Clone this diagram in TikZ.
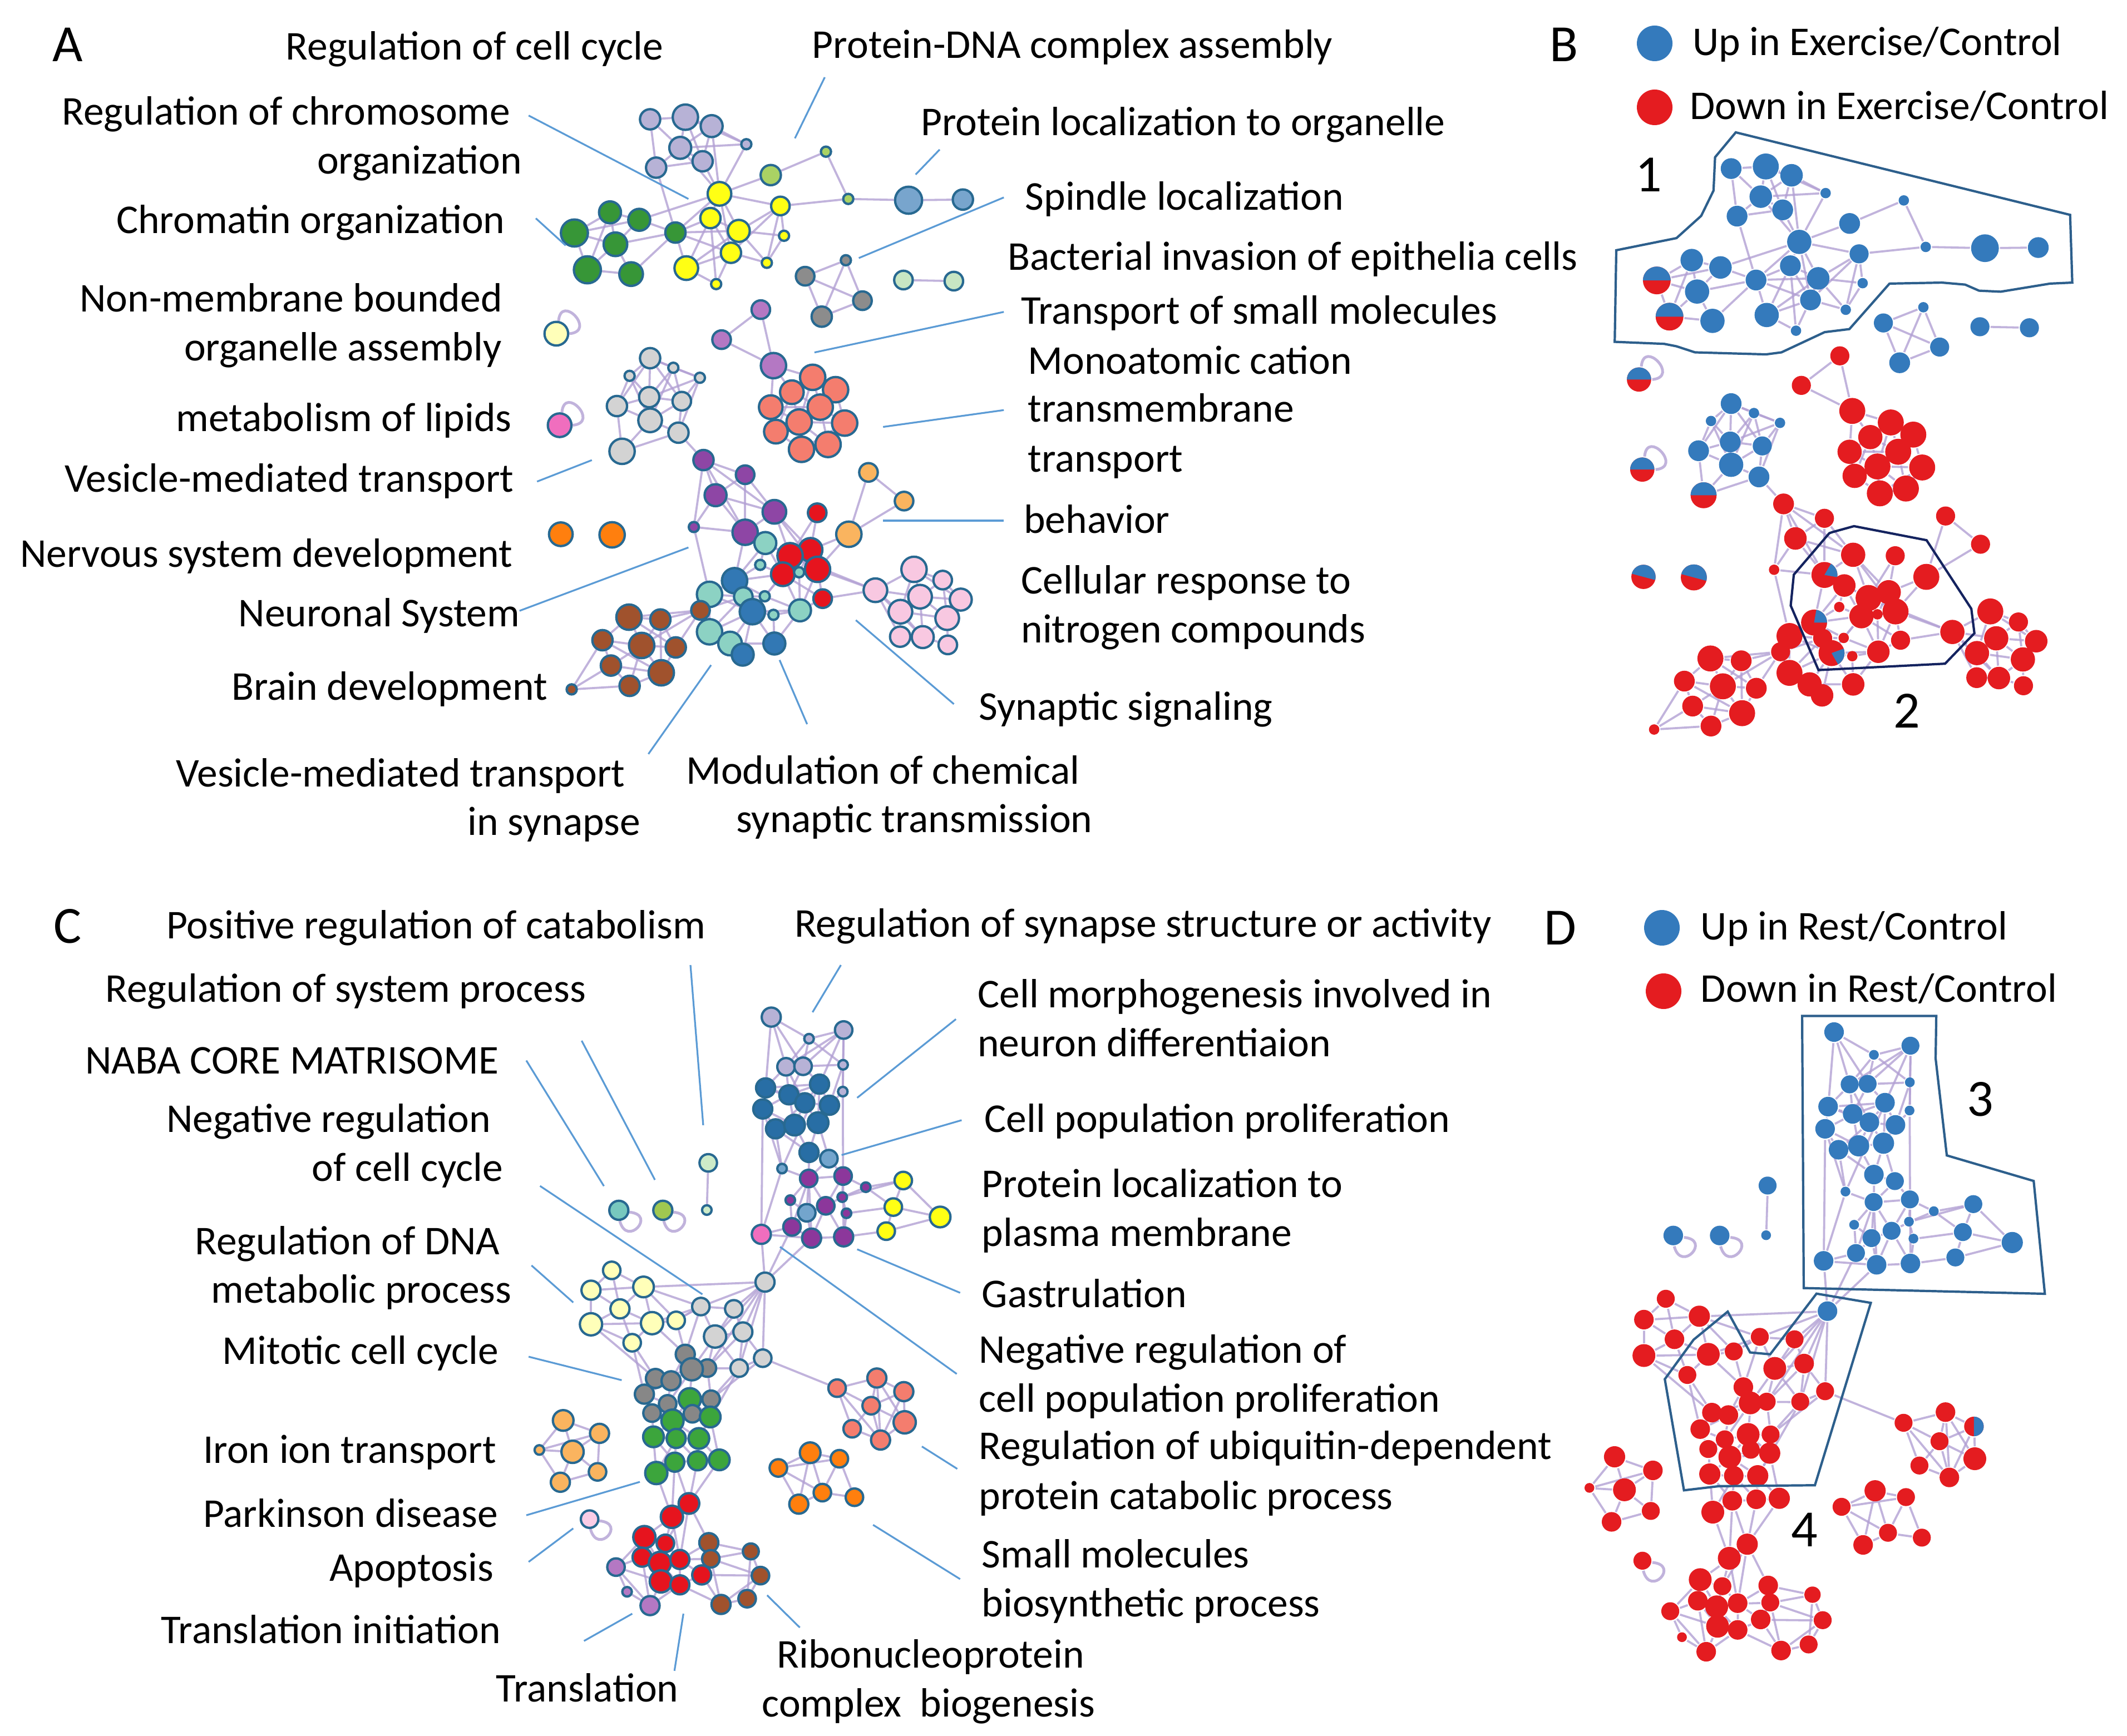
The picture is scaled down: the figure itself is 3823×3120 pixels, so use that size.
\documentclass[tikz,border=0pt]{standalone}
\usepackage{fontspec}
\setmainfont{Carlito}
\pgfdeclarelayer{bgzero}
\pgfdeclarelayer{background}
\pgfsetlayers{bgzero,background,main}
\definecolor{ndout}{RGB}{40,105,145}
\definecolor{lnkc}{RGB}{178,160,212}
\definecolor{ldrc}{RGB}{91,155,213}
\definecolor{upc}{RGB}{52,122,188}
\definecolor{downc}{RGB}{228,28,32}
\definecolor{lav}{RGB}{183,178,214}
\definecolor{yel}{RGB}{255,255,20}
\definecolor{ygr}{RGB}{170,210,100}
\definecolor{pblu}{RGB}{120,165,205}
\definecolor{grn}{RGB}{55,150,55}
\definecolor{gry}{RGB}{140,140,140}
\definecolor{lgrn}{RGB}{200,230,195}
\definecolor{pyel}{RGB}{255,255,185}
\definecolor{orch}{RGB}{180,120,195}
\definecolor{pur}{RGB}{142,70,165}
\definecolor{lgry}{RGB}{211,211,211}
\definecolor{hpink}{RGB}{240,110,190}
\definecolor{salm}{RGB}{244,125,110}
\definecolor{rred}{RGB}{230,20,30}
\definecolor{tealn}{RGB}{140,210,195}
\definecolor{dblu}{RGB}{50,120,180}
\definecolor{lora}{RGB}{250,180,95}
\definecolor{ora}{RGB}{255,127,14}
\definecolor{ppink}{RGB}{248,200,225}
\definecolor{brn}{RGB}{160,82,45}
\definecolor{cdblu}{RGB}{40,110,165}
\definecolor{mblu}{RGB}{115,165,205}
\definecolor{cpur}{RGB}{140,55,155}
\definecolor{tealc}{RGB}{120,200,190}
\definecolor{ygc}{RGB}{160,200,80}
\definecolor{lgc}{RGB}{205,235,200}
\definecolor{dgry}{RGB}{135,135,135}
\definecolor{cgrn}{RGB}{60,165,60}
\definecolor{lpink}{RGB}{250,205,230}
\definecolor{regone}{RGB}{45,95,140}
\definecolor{regtwo}{RGB}{20,35,95}
\newcommand\lblfont{\fontsize{7.35}{9}\selectfont}
\newcommand\bigfont{\fontsize{9.4}{11}\selectfont}
\tikzset{
  nA/.style={circle,draw=ndout,line width=0.42pt,inner sep=0pt},
  nB/.style={circle,draw=none,inner sep=0pt},
  U/.style={fill=upc},
  D/.style={fill=downc},
  pie/.style 2 args={fill=downc,path picture={\fill[upc] (path picture bounding box.center) -- +(#1:20pt) -- +({(#1+#2)/2}:20pt) -- +(#2:20pt) -- cycle;}},
  lnk/.style={draw=lnkc,line width=0.38pt,opacity=0.8},
  ldr/.style={draw=ldrc,line width=0.32pt},
  lab/.style={font=\lblfont,inner sep=0pt,anchor=base west},
  bigl/.style={font=\bigfont,inner sep=0pt},
  regA/.style={draw=regone,line width=0.42pt},
  regB/.style={draw=regtwo,line width=0.42pt},
  legdot/.style={circle,inner sep=0pt,minimum size=6.4pt}
}
\newif\ifcolmode
\newcommand\nd[6]{%
  \ifcolmode
    \node[nA,minimum size={#4*\zs*0.112pt},fill=#5] (\pf#1) at (#2,#3) {};%
  \else
    \node[nB,minimum size={#4*\zs*0.115pt},#6] (\pf#1) at (#2,#3) {};%
  \fi}
\newcommand\lk[1]{\foreach \ea/\eb in {#1}{\draw[lnk] (\pf\ea) -- (\pf\eb);}}
\newcommand\loopup[1]{\draw[lnk,line width=0.5pt] (#1.80) .. controls +(85:5pt) and +(5:5pt) .. (#1.0);}
\newcommand\loopdn[1]{\draw[lnk,line width=0.5pt] (#1.-10) .. controls +(-5:5pt) and +(-75:5pt) .. (#1.-85);}
\newcommand\ldr[3]{\coordinate (#1a) at (#2); \coordinate (#1b) at (#3); \draw[ldr] (#1a) -- (#1b);}
% ---------------- network of panels A / B ----------------
\newcommand\netA{%
\begin{scope}[shift={(950,200)},xscale=0.5421,yscale=0.3827]\def\zs{0.5421}
\nd{L1}{403}{38}{60}{lav}{U}
\nd{L2}{520}{28}{75}{lav}{U}
\nd{L3}{607}{70}{65}{lav}{U}
\nd{L4}{503}{172}{65}{lav}{U}
\nd{L5}{722}{155}{30}{lav}{U}
\nd{L6}{577}{235}{60}{lav}{U}
\nd{L7}{423}{265}{60}{lav}{U}
\nd{Y1}{633}{388}{70}{yel}{U}
\nd{Y2}{835}{445}{55}{yel}{U}
\nd{Y3}{603}{502}{60}{yel}{U}
\nd{Y4}{697}{562}{65}{yel}{U}
\nd{Y5}{847}{585}{30}{yel}{U}
\nd{Y6}{671}{665}{60}{yel}{U}
\nd{Y7}{523}{737}{70}{yel}{U}
\nd{Y8}{790}{712}{30}{yel}{U}
\nd{Y9}{622}{812}{30}{yel}{U}
\nd{G1}{803}{300}{60}{ygr}{U}
\nd{G2}{986}{190}{30}{ygr}{U}
\nd{G3}{1060}{412}{30}{ygr}{U}
\nd{P1}{1260}{418}{80}{pblu}{U}
\nd{P2}{1440}{415}{60}{pblu}{U}
\nd{Gr1}{270}{475}{65}{grn}{U}
\nd{Gr2}{367}{510}{65}{grn}{U}
\nd{Gr3}{152}{572}{80}{grn}{pie={0}{180}}
\nd{Gr4}{487}{570}{60}{grn}{U}
\nd{Gr5}{288}{625}{70}{grn}{U}
\nd{Gr6}{195}{745}{80}{grn}{pie={0}{180}}
\nd{Gr7}{340}{765}{70}{grn}{U}
\nd{Dg1}{1052}{700}{30}{gry}{U}
\nd{Dg2}{917}{775}{55}{gry}{U}
\nd{Dg3}{1107}{890}{55}{gry}{U}
\nd{Dg4}{972}{965}{60}{gry}{U}
\nd{E1}{1243}{793}{55}{lgrn}{U}
\nd{E2}{1410}{798}{55}{lgrn}{U}
\nd{Yl}{92}{1045}{70}{pyel}{pie={0}{180}}
\nd{Oc1}{770}{932}{55}{orch}{D}
\nd{Oc2}{640}{1073}{55}{orch}{D}
\nd{Oc3}{812}{1195}{75}{orch}{D}
\nd{Q1}{403}{1160}{60}{lgry}{U}
\nd{Q2}{480}{1205}{30}{lgry}{U}
\nd{Q3}{335}{1243}{30}{lgry}{U}
\nd{Q4}{568}{1252}{30}{lgry}{U}
\nd{Q5}{400}{1343}{60}{lgry}{U}
\nd{Q6}{293}{1385}{60}{lgry}{U}
\nd{Q7}{508}{1362}{55}{lgry}{U}
\nd{Q8}{403}{1452}{70}{lgry}{U}
\nd{Q9}{497}{1510}{60}{lgry}{U}
\nd{Pl}{103}{1475}{70}{hpink}{pie={0}{180}}
\nd{S1}{942}{1250}{75}{salm}{D}
\nd{S2}{1018}{1308}{75}{salm}{D}
\nd{S3}{873}{1320}{70}{salm}{D}
\nd{S4}{803}{1390}{70}{salm}{D}
\nd{S5}{967}{1390}{75}{salm}{D}
\nd{S6}{897}{1460}{75}{salm}{D}
\nd{S7}{1048}{1465}{75}{salm}{D}
\nd{S8}{820}{1505}{70}{salm}{D}
\end{scope}
\begin{scope}[shift={(950,750)},xscale=0.5421,yscale=0.3508]\def\zs{0.5421}
\nd{Q10}{310}{175}{75}{lgry}{pie={0}{180}}
\nd{S9}{905}{165}{75}{salm}{D}
\nd{S10}{993}{140}{75}{salm}{D}
\nd{Pu1}{580}{220}{60}{pur}{D}
\nd{Pu2}{718}{295}{55}{pur}{D}
\nd{Pu3}{620}{400}{65}{pur}{D}
\nd{Pu4}{815}{485}{70}{pur}{D}
\nd{Pu5}{548}{563}{30}{pur}{D}
\nd{Pu6}{718}{590}{75}{pur}{pie={-10}{60}}
\nd{R1}{957}{490}{55}{rred}{D}
\nd{T1}{785}{645}{65}{tealn}{D}
\nd{R2}{935}{680}{70}{rred}{D}
\nd{R3}{867}{710}{75}{rred}{D}
\nd{T2}{768}{757}{30}{tealn}{D}
\nd{R4}{958}{780}{75}{rred}{D}
\nd{R5}{843}{805}{70}{rred}{D}
\nd{T3}{897}{795}{30}{tealn}{D}
\nd{R6}{975}{930}{55}{rred}{D}
\nd{Db1}{683}{838}{75}{dblu}{pie={0}{80}}
\nd{T4}{600}{908}{75}{tealn}{D}
\nd{T5}{712}{920}{55}{tealn}{D}
\nd{T6}{783}{918}{30}{tealn}{D}
\nd{Db2}{742}{997}{75}{dblu}{pie={-60}{20}}
\nd{T7}{812}{1013}{30}{tealn}{D}
\nd{T8}{900}{990}{65}{tealn}{D}
\nd{T9}{600}{1100}{75}{tealn}{D}
\nd{T10}{668}{1160}{70}{tealn}{D}
\nd{Db3}{815}{1160}{65}{dblu}{D}
\nd{Db4}{710}{1217}{65}{dblu}{D}
\nd{Lo1}{1127}{283}{55}{lora}{D}
\nd{Lo2}{1245}{430}{55}{lora}{D}
\nd{Lo3}{1062}{600}{75}{lora}{D}
\nd{O1}{107}{600}{70}{ora}{pie={-15}{165}}
\nd{O2}{277}{603}{75}{ora}{pie={-15}{165}}
\nd{Pk1}{1278}{780}{75}{ppink}{D}
\nd{Pk2}{1373}{835}{55}{ppink}{D}
\nd{Pk3}{1150}{887}{70}{ppink}{D}
\nd{Pk4}{1298}{920}{70}{ppink}{D}
\nd{Pk5}{1433}{935}{65}{ppink}{D}
\nd{Pk6}{1233}{997}{70}{ppink}{D}
\nd{Pk7}{1388}{1030}{70}{ppink}{D}
\nd{Pk8}{1232}{1125}{60}{ppink}{D}
\nd{Pk9}{1307}{1127}{65}{ppink}{D}
\nd{Pk10}{1390}{1167}{55}{ppink}{D}
\nd{Br1}{570}{990}{55}{brn}{D}
\nd{Br2}{333}{1025}{75}{brn}{D}
\nd{Br3}{437}{1037}{60}{brn}{D}
\nd{Br4}{245}{1143}{60}{brn}{D}
\nd{Br5}{375}{1170}{75}{brn}{D}
\nd{Br6}{488}{1180}{60}{brn}{D}
\nd{Br7}{273}{1273}{60}{brn}{D}
\nd{Br8}{440}{1310}{75}{brn}{D}
\nd{Br9}{335}{1377}{60}{brn}{D}
\nd{Br10}{143}{1395}{30}{brn}{D}
\end{scope}
\begin{pgfonlayer}{background}
\lk{L1/L2,L1/L4,L1/L7,L2/L3,L2/L4,L2/L6,L3/L4,L3/L6,L3/L5,L4/L5,L4/L6,L4/L7,L6/L7,L2/L5,L3/Y1,L6/Y1,L5/Y1,L4/Y1,L7/Gr4}
\lk{Y1/Y2,Y1/Y3,Y1/Y4,Y1/G1,Y1/Gr2,Y1/Gr4,Y1/Y6,Y3/Y4,Y3/Y6,Y3/Y7,Y3/Gr4,Y4/Y6,Y4/Y2,Y4/Y5,Y4/Y8,Y4/Gr4,Y6/Y7,Y6/Y9,Y6/Y2,Y7/Y9,Y7/Gr4,Y7/Y4,Y2/Y5,Y2/Y8,Y5/Y8,Y2/G3,Y6/Y8,Y9/Y3,Gr4/Y6}
\lk{G1/G2,G2/G3,G3/P1,P1/P2,E1/E2}
\lk{Gr1/Gr2,Gr1/Gr3,Gr1/Gr5,Gr2/Gr4,Gr2/Gr5,Gr3/Gr5,Gr3/Gr6,Gr5/Gr6,Gr5/Gr7,Gr6/Gr7,Gr7/Gr4,Gr2/Gr3,Gr4/Gr5,Gr6/Gr1}
\lk{Dg1/Dg2,Dg1/Dg3,Dg1/Dg4,Dg2/Dg3,Dg2/Dg4,Dg3/Dg4}
\lk{Oc1/Oc2,Oc2/Oc3,Oc1/Oc3,Oc3/S1,Oc3/S3,Oc3/S4}
\lk{S1/S2,S1/S3,S1/S5,S2/S5,S2/S7,S3/S4,S3/S5,S3/S6,S4/S6,S4/S8,S5/S6,S5/S7,S6/S7,S6/S8,S6/S9,S7/S10,S5/S10,S8/S9,S9/S10,S6/S10,S1/S6,S3/S8,S2/S6,S4/S5,S7/S9}
\lk{Q1/Q2,Q1/Q3,Q1/Q4,Q1/Q5,Q1/Q6,Q1/Q7,Q2/Q4,Q2/Q5,Q2/Q7,Q3/Q5,Q3/Q6,Q4/Q7,Q4/Q5,Q5/Q6,Q5/Q7,Q5/Q8,Q6/Q8,Q7/Q8,Q7/Q9,Q8/Q9,Q8/Q10,Q6/Q10,Q9/Q10,Q3/Q8,Q2/Q8,Q4/Q9,Q9/Pu1}
\lk{Pu1/Pu2,Pu1/Pu3,Pu1/Pu4,Pu1/Pu5,Pu1/Pu6,Pu2/Pu3,Pu2/Pu4,Pu2/Pu6,Pu3/Pu4,Pu3/Pu5,Pu3/Pu6,Pu5/Pu6,Pu4/Pu6,Pu4/R3,Pu4/R2,Pu4/R4,Pu6/T1,Pu6/Db1,Pu5/T4,Pu6/R3}
\lk{R1/R2,R1/R3,R2/R3,R2/R4,R3/R4,R3/R5,R4/R5,R2/T3,R5/T3,R4/T3,R4/R6,R5/R6,R2/Lo3,R4/Lo3,R4/Pk3,R3/Pk3,R6/Pk3,Lo3/Lo2,Lo2/Lo1,Lo1/Lo3,R3/T1,R5/T1,T1/T2,R5/T2}
\lk{T1/Db1,T2/Db1,Db1/T4,Db1/T5,Db1/T6,Db1/Db2,T4/T5,T4/T9,T4/Db2,T5/Db2,T5/T6,T6/Db2,T6/R5,T6/T8,Db2/T7,Db2/T8,Db2/T9,Db2/T10,Db2/Db3,Db2/Db4,T7/T8,T7/Db3,T8/R5,T8/R6,T8/R4,T9/T10,T9/Db4,T10/Db4,T10/Db3,T9/T5,R5/Db2,R5/Db1,T3/T8,Db3/T8,T4/Br1,T9/Br1,Br1/T5}
\lk{Br1/Br2,Br1/Br3,Br1/Br5,Br1/Br6,Br2/Br3,Br2/Br4,Br2/Br5,Br3/Br5,Br3/Br6,Br4/Br5,Br4/Br7,Br5/Br6,Br5/Br7,Br5/Br8,Br5/Br9,Br6/Br8,Br7/Br9,Br8/Br9,Br7/Br8,Br4/Br8,Br2/Br6,Br10/Br4,Br10/Br9,Br10/Br7,Br3/Br8}
\lk{Pk1/Pk2,Pk1/Pk3,Pk1/Pk4,Pk1/Pk5,Pk2/Pk4,Pk2/Pk5,Pk3/Pk4,Pk3/Pk6,Pk3/Pk8,Pk4/Pk5,Pk4/Pk6,Pk4/Pk7,Pk4/Pk9,Pk5/Pk7,Pk6/Pk7,Pk6/Pk8,Pk6/Pk9,Pk7/Pk9,Pk7/Pk10,Pk8/Pk9,Pk9/Pk10,Pk3/Pk9,Pk1/Pk6,Pk2/Pk7}
\end{pgfonlayer}
}
% ---------------- network of panels C / D ----------------
\newcommand\netC{%
\begin{scope}[shift={(950,1650)},xscale=0.5102,yscale=0.4464]\def\zs{0.5102}
\nd{La1}{855}{400}{60}{lav}{U}
\nd{La2}{988}{487}{30}{lav}{U}
\nd{La3}{1110}{452}{55}{lav}{U}
\nd{La4}{907}{600}{55}{lav}{U}
\nd{La5}{967}{598}{55}{lav}{U}
\nd{La6}{1108}{592}{30}{lav}{U}
\nd{La7}{1107}{700}{30}{lav}{U}
\nd{B1}{835}{685}{60}{cdblu}{U}
\nd{B2}{917}{713}{60}{cdblu}{U}
\nd{B3}{1025}{670}{60}{cdblu}{U}
\nd{B4}{973}{745}{60}{cdblu}{U}
\nd{B5}{825}{770}{60}{cdblu}{U}
\nd{B6}{1060}{755}{60}{cdblu}{U}
\nd{B7}{870}{850}{60}{cdblu}{U}
\nd{B8}{937}{835}{65}{cdblu}{U}
\nd{B9}{1020}{825}{65}{cdblu}{U}
\nd{B10}{988}{945}{60}{cdblu}{U}
\nd{Mb1}{1058}{970}{55}{mblu}{U}
\nd{Mb2}{893}{1010}{30}{mblu}{U}
\nd{Pp1}{987}{1050}{55}{cpur}{U}
\nd{Pp2}{1108}{1040}{55}{cpur}{U}
\nd{Pp3}{1188}{1085}{30}{cpur}{U}
\nd{Pp4}{922}{1137}{30}{cpur}{U}
\nd{Pp5}{1105}{1125}{30}{cpur}{U}
\nd{Pp6}{1047}{1160}{55}{cpur}{U}
\nd{Pp7}{1120}{1190}{30}{cpur}{U}
\nd{Mb3}{980}{1188}{55}{mblu}{U}
\nd{Pp8}{928}{1245}{55}{cpur}{U}
\nd{Pp9}{997}{1290}{60}{cpur}{U}
\nd{Pp10}{1110}{1285}{60}{cpur}{U}
\nd{Pi}{820}{1275}{60}{hpink}{U}
\nd{Ye1}{1320}{1058}{55}{yel}{U}
\nd{Ye2}{1285}{1165}{55}{yel}{U}
\nd{Ye3}{1450}{1205}{65}{yel}{U}
\nd{Ye4}{1260}{1262}{55}{yel}{U}
\nd{Tl}{318}{1178}{60}{tealc}{U}
\nd{Yg}{473}{1178}{60}{ygc}{U}
\nd{Lp1}{633}{987}{55}{lgc}{U}
\nd{Lp2}{628}{1177}{30}{lgc}{U}
\nd{Py1}{293}{1420}{55}{pyel}{D}
\end{scope}
\begin{scope}[shift={(950,2300)},xscale=0.5102,yscale=0.4145]\def\zs{0.5102}
\nd{Py2}{220}{47}{60}{pyel}{D}
\nd{Py3}{405}{33}{65}{pyel}{D}
\nd{Py4}{322}{128}{60}{pyel}{D}
\nd{Py5}{220}{195}{70}{pyel}{D}
\nd{Py6}{435}{190}{70}{pyel}{D}
\nd{Py7}{520}{178}{55}{pyel}{D}
\nd{Py8}{365}{275}{55}{pyel}{D}
\nd{Lg1}{833}{12}{60}{lgry}{U}
\nd{Lg2}{607}{118}{55}{lgry}{D}
\nd{Lg3}{723}{128}{55}{lgry}{D}
\nd{Lg4}{657}{248}{70}{lgry}{D}
\nd{Lg5}{755}{228}{60}{lgry}{D}
\nd{Lg6}{825}{342}{55}{lgry}{D}
\nd{Lg7}{742}{385}{55}{lgry}{D}
\nd{Dg1}{552}{325}{60}{dgry}{D}
\nd{Dg3}{630}{385}{55}{dgry}{D}
\nd{Dg2}{575}{390}{70}{dgry}{D}
\nd{Dg4}{447}{430}{60}{dgry}{D}
\nd{Dg5}{502}{440}{60}{dgry}{D}
\nd{Dg6}{408}{498}{60}{dgry}{D}
\nd{Dg8}{643}{520}{55}{dgry}{D}
\nd{Dg7}{490}{540}{55}{dgry}{D}
\nd{Gn1}{568}{520}{70}{cgrn}{D}
\nd{Dg9}{435}{580}{55}{dgry}{D}
\nd{Dg10}{577}{583}{55}{dgry}{D}
\nd{Gn2}{507}{613}{70}{cgrn}{D}
\nd{Gn3}{640}{597}{65}{cgrn}{D}
\nd{Gn4}{440}{683}{65}{cgrn}{D}
\nd{Gn5}{520}{690}{60}{cgrn}{D}
\nd{Gn6}{600}{690}{65}{cgrn}{D}
\nd{Gn7}{515}{793}{60}{cgrn}{D}
\nd{Gn8}{595}{787}{60}{cgrn}{D}
\nd{Gn9}{672}{783}{65}{cgrn}{D}
\nd{Gn10}{450}{840}{70}{cgrn}{D}
\nd{Lo1}{122}{612}{65}{lora}{D}
\nd{Lo2}{250}{668}{60}{lora}{D}
\nd{Lo3}{155}{748}{70}{lora}{D}
\nd{Lo4}{38}{740}{30}{lora}{D}
\nd{Lo5}{243}{835}{55}{lora}{D}
\nd{Lo6}{112}{880}{60}{lora}{D}
\nd{Sa1}{1227}{428}{60}{salm}{D}
\nd{Sa2}{1087}{472}{55}{salm}{D}
\nd{Sa3}{1322}{487}{60}{salm}{pie={-90}{90}}
\nd{Sa4}{1207}{548}{55}{salm}{D}
\nd{Sa5}{1325}{620}{70}{salm}{D}
\nd{Sa6}{1140}{648}{55}{salm}{D}
\nd{Sa7}{1240}{697}{60}{salm}{D}
\nd{Or1}{992}{752}{65}{ora}{D}
\nd{Or2}{1095}{778}{55}{ora}{D}
\nd{Or3}{880}{818}{55}{ora}{D}
\nd{Or4}{1035}{925}{55}{ora}{D}
\nd{Or5}{1148}{945}{55}{ora}{D}
\nd{Or6}{952}{975}{60}{ora}{D}
\nd{Rd1}{565}{972}{65}{rred}{D}
\nd{Rd2}{505}{1030}{70}{rred}{D}
\nd{Rd3}{408}{1118}{70}{rred}{D}
\nd{Rd4}{482}{1145}{55}{rred}{D}
\nd{Bn1}{635}{1142}{60}{brn}{D}
\nd{Bn2}{642}{1212}{55}{brn}{D}
\nd{Bn3}{783}{1180}{50}{brn}{D}
\nd{Bn4}{817}{1285}{55}{brn}{D}
\nd{Bn5}{678}{1410}{60}{brn}{D}
\nd{Bn6}{770}{1385}{55}{brn}{D}
\nd{Rd5}{400}{1205}{60}{rred}{D}
\nd{Rd6}{463}{1230}{70}{rred}{D}
\nd{Rd7}{533}{1215}{60}{rred}{D}
\nd{Rd8}{610}{1282}{60}{rred}{D}
\nd{Rd9}{466}{1310}{70}{rred}{D}
\nd{Rd10}{533}{1325}{60}{rred}{D}
\nd{Po1}{308}{1248}{55}{orch}{D}
\nd{Po2}{347}{1355}{30}{orch}{D}
\nd{Po3}{428}{1415}{60}{orch}{D}
\nd{Lk}{215}{1040}{55}{lpink}{D}
\end{scope}
\begin{pgfonlayer}{background}
\lk{La1/La2,La1/La4,La1/La5,La1/B1,La2/La3,La2/La4,La2/La5,La2/La6,La3/La6,La3/La5,La3/La7,La3/Mb2,La3/La4,La4/La5,La5/La6,La6/La7,La4/B1,La4/B2,La5/B3,La5/B2,La7/B6,La7/Pp2,La4/B4,La6/B6}
\lk{B1/B2,B1/B4,B1/B5,B2/B3,B2/B4,B2/B5,B2/B8,B3/B4,B3/B6,B3/B9,B4/B6,B4/B8,B4/B9,B5/B7,B5/B8,B6/B9,B7/B8,B8/B9,B7/B10,B8/B10,B9/B10,B9/Mb1,B10/Mb1,B7/Mb2,B10/Pp1,B1/B3,B7/B4}
\lk{Pp1/Pp2,Pp1/Pp4,Pp1/Pp6,Pp1/Mb3,Pp1/Pp8,Pp1/Pp9,Pp2/Pp3,Pp2/Pp5,Pp2/Pp6,Pp2/Pp10,Pp3/Pp5,Pp4/Mb3,Pp4/Pp8,Pp5/Pp6,Pp5/Pp7,Pp6/Mb3,Pp6/Pp9,Pp6/Pp10,Pp7/Pp10,Pp8/Pp9,Pp9/Pp10,Mb3/Pp8,Mb3/Pp9,Pp3/Ye1,Pp3/Ye2,Pp10/Ye4,Pp7/Ye2,Pp5/Ye1,Ye1/Ye2,Ye1/Ye3,Ye2/Ye3,Ye2/Ye4,Ye3/Ye4,Pi/Pp8,Pi/Pp9,Pi/Mb2,Pi/B5,Mb1/Pp1,Mb1/Pp2,Mb2/Pp1,Mb2/B5,Pi/Lg1,Pp8/Lg1,Pp9/Lg1,Lp1/Lp2}
\lk{Lg1/Lg2,Lg1/Lg3,Lg1/Lg4,Lg1/Lg5,Lg1/Lg6,Lg1/Lg7,Lg1/Dg3,Lg2/Lg3,Lg2/Lg4,Lg2/Dg1,Lg3/Lg4,Lg3/Lg5,Lg4/Lg5,Lg4/Lg7,Lg4/Dg2,Lg5/Lg6,Lg5/Lg7,Lg6/Lg7,Lg6/Sa2,Lg7/Dg3,Lg4/Dg3,Lg6/Dg8,Lg2/Py7,Lg2/Py6,Lg5/Dg3,Py3/Lg1}
\lk{Py1/Py2,Py1/Py3,Py1/Py4,Py2/Py4,Py2/Py5,Py3/Py4,Py3/Py6,Py3/Py7,Py4/Py5,Py4/Py6,Py4/Py8,Py5/Py8,Py6/Py8,Py6/Py7,Py5/Py6,Py2/Py3,Py8/Dg4,Py6/Dg1,Py7/Dg1,Py8/Dg6,Py5/Dg4,Py7/Lg2,Py3/Lg2}
\lk{Dg1/Dg2,Dg1/Dg3,Dg2/Dg3,Dg2/Dg5,Dg4/Dg5,Dg4/Dg6,Dg5/Dg6,Dg5/Dg7,Dg6/Dg7,Dg6/Dg9,Dg7/Dg9,Dg7/Gn1,Dg7/Gn2,Dg8/Gn1,Dg8/Gn3,Dg10/Gn1,Dg10/Gn2,Dg10/Gn3,Dg9/Gn2,Dg9/Gn4,Dg2/Gn1,Dg3/Dg8,Dg1/Dg5,Dg4/Dg2,Dg2/Dg7,Dg8/Lg7,Gn6/Lg7}
\lk{Gn1/Gn2,Gn1/Gn3,Gn2/Gn3,Gn2/Gn4,Gn2/Gn5,Gn2/Gn6,Gn3/Gn6,Gn4/Gn5,Gn5/Gn6,Gn4/Gn7,Gn5/Gn7,Gn5/Gn8,Gn6/Gn8,Gn6/Gn9,Gn7/Gn8,Gn8/Gn9,Gn4/Gn10,Gn7/Gn10,Gn3/Gn9,Gn5/Gn10,Gn10/Rd2,Gn7/Rd1,Gn8/Rd1,Gn9/Rd1,Gn7/Rd2}
\lk{Rd1/Rd2,Rd1/Rd4,Rd1/Rd7,Rd1/Bn1,Rd2/Rd3,Rd2/Rd4,Rd2/Rd7,Rd3/Rd4,Rd3/Rd5,Rd3/Rd6,Rd4/Rd6,Rd4/Rd7,Rd5/Rd6,Rd5/Rd9,Rd6/Rd7,Rd6/Rd9,Rd6/Rd10,Rd7/Rd10,Rd7/Rd8,Rd9/Rd10,Rd8/Rd10,Rd7/Bn1,Rd7/Bn2,Rd8/Bn2,Rd8/Bn4,Rd8/Bn5,Bn1/Bn2,Bn1/Bn3,Bn2/Bn3,Bn2/Bn4,Bn3/Bn4,Bn4/Bn6,Bn5/Bn6,Bn2/Bn5,Bn3/Bn6,Bn4/Bn5,Rd10/Bn5,Rd5/Po1,Po1/Rd3,Po1/Po3,Po1/Po2,Po2/Po3,Po3/Rd9,Po3/Rd10,Rd5/Po3,Rd9/Po1}
\lk{Lo1/Lo2,Lo1/Lo3,Lo1/Lo4,Lo2/Lo3,Lo2/Lo5,Lo3/Lo4,Lo3/Lo5,Lo3/Lo6,Lo4/Lo6,Lo5/Lo6,Lo4/Lo2}
\lk{Sa1/Sa2,Sa1/Sa3,Sa1/Sa4,Sa1/Sa5,Sa1/Sa7,Sa2/Sa4,Sa2/Sa6,Sa3/Sa4,Sa3/Sa5,Sa4/Sa5,Sa4/Sa6,Sa4/Sa7,Sa5/Sa7,Sa6/Sa7,Sa2/Sa7,Sa3/Sa7}
\lk{Or1/Or2,Or1/Or3,Or1/Or4,Or1/Or6,Or2/Or3,Or2/Or4,Or2/Or5,Or3/Or6,Or4/Or5,Or4/Or6,Or3/Or4}
\end{pgfonlayer}
}
\begin{document}
\begin{tikzpicture}[x=0.1pt,y=-0.1pt]
\begin{pgfonlayer}{bgzero}
\fill[white] (0,0) rectangle (3823,3120);
\end{pgfonlayer}
\useasboundingbox (0,0) rectangle (3823,3120);
% networks
\colmodetrue\def\pf{a}\netA
\begin{scope}[shift={(1964,92)},xscale=0.982,yscale=0.984]
\colmodefalse\def\pf{b}\netA
\end{scope}
\colmodetrue\def\pf{c}\netC
\begin{scope}[shift={(1834,-70)},xscale=1.055,yscale=1.053]
\colmodefalse\def\pf{d}\netC
\end{scope}
\begin{pgfonlayer}{background}
\loopup{aYl}\loopup{aPl}\loopup{bYl}\loopup{bPl}
\loopdn{cTl}\loopdn{cYg}\loopdn{cLk}\loopdn{dTl}\loopdn{dYg}\loopdn{dLk}
\end{pgfonlayer}
% outlined regions
\begin{scope}[shift={(2880,230)},xscale=0.5549,yscale=0.3635]
\draw[regA] (432,22) -- (1515,430) -- (1522,765) -- (1450,770) -- (1290,810) -- (1220,805) -- (1175,775) -- (1100,765) -- (930,770) -- (800,995) -- (720,1010) -- (580,1110) -- (530,1120) -- (300,1110) -- (240,1080) -- (200,1068) -- (40,1058) -- (45,605) -- (240,545) -- (320,435) -- (360,310) -- (365,145) -- cycle;
\end{scope}
\begin{scope}[shift={(2880,750)},xscale=0.5549,yscale=0.3827]
\draw[regB] (815,512) -- (1050,578) -- (1195,900) -- (1205,1015) -- (1110,1158) -- (700,1188) -- (610,885) -- (620,740) -- (735,545) -- (745,540) -- cycle;
\end{scope}
\begin{scope}[shift={(2820,1750)},xscale=0.574,yscale=0.3827]
\draw[regA] (730,200) -- (1150,200) -- (1148,400) -- (1183,855) -- (1455,975) -- (1490,1505) -- (735,1478) -- cycle;
\end{scope}
\begin{scope}[shift={(2820,2300)},xscale=0.574,yscale=0.4145]
\draw[regA] (775,62) -- (945,102) -- (770,893) -- (470,897) -- (360,915) -- (300,433) -- (390,262) -- (497,140) -- (567,317) -- (630,325) -- cycle;
\end{scope}
% panel letters, numbers, legends
\node[bigl] (pA) at (122,80) {A};
\node[bigl] (pB) at (2811,80) {B};
\node[bigl] (pC) at (122,1665) {C};
\node[bigl] (pD) at (2804,1668) {D};
\node[bigl] (n1) at (2963,314) {1};
\node[bigl] (n2) at (3427,1278) {2};
\node[bigl] (n3) at (3559,1976) {3};
\node[bigl] (n4) at (3243,2750) {4};
\node[legdot,fill=upc] (lgB1) at (2974,78) {};
\node[legdot,fill=downc] (lgB2) at (2974,193) {};
\node[legdot,fill=upc] (lgD1) at (2987,1668) {};
\node[legdot,fill=downc] (lgD2) at (2990,1782) {};
% labels and leader lines (reference-image pixel coordinates)
\begin{scope}[scale=2.438]
\node[lab] (tB1) at (1247,41) {Up in Exercise/Control};
\node[lab] (tB2) at (1245,88) {Down in Exercise/Control};
\node[lab] (tD1) at (1253,693) {Up in Rest/Control};
\node[lab] (tD2) at (1253,739) {Down in Rest/Control};
\node[lab] (ta1) at (210,44) {Regulation of cell cycle};
\node[lab] (ta2) at (598,43) {Protein-DNA complex assembly};
\node[lab] (ta3) at (45,92) {Regulation of chromosome};
\node[lab] (ta4) at (233,128) {organization};
\node[lab] (ta5) at (678,100) {Protein localization to organelle};
\node[lab] (ta6) at (85,172) {Chromatin organization};
\node[lab] (ta7) at (755,155) {Spindle localization};
\node[lab] (ta8) at (742,199) {Bacterial invasion of epithelia cells};
\node[lab] (ta9) at (58,230) {Non-membrane bounded};
\node[lab] (ta10) at (752,239) {Transport of small molecules};
\node[lab] (ta11) at (135,266) {organelle assembly};
\node[lab] (ta12) at (757,276) {Monoatomic cation};
\node[lab] (ta13) at (757,311) {transmembrane};
\node[lab] (ta14) at (129,318) {metabolism of lipids};
\node[lab] (ta15) at (757,348) {transport};
\node[lab] (ta16) at (47,363) {Vesicle-mediated transport};
\node[lab] (ta17) at (754,393) {behavior};
\node[lab] (ta18) at (14,418) {Nervous system development};
\node[lab] (ta19) at (752,438) {Cellular response to};
\node[lab] (ta20) at (175,462) {Neuronal System};
\node[lab] (ta21) at (752,474) {nitrogen compounds};
\node[lab] (ta22) at (170,516) {Brain development};
\node[lab] (ta23) at (721,531) {Synaptic signaling};
\node[lab] (ta24) at (129,580) {Vesicle-mediated transport};
\node[lab] (ta25) at (505,578) {Modulation of chemical};
\node[lab] (ta26) at (344,616) {in synapse};
\node[lab] (ta27) at (542,614) {synaptic transmission};
\node[lab] (tc1) at (122,692) {Positive regulation of catabolism};
\node[lab] (tc2) at (585,691) {Regulation of synapse structure or activity};
\node[lab] (tc3) at (77,739) {Regulation of system process};
\node[lab] (tc4) at (720,743) {Cell morphogenesis involved in};
\node[lab] (tc5) at (720,779) {neuron differentiaion};
\node[lab] (tc6) at (62,792) {NABA CORE MATRISOME};
\node[lab] (tc7) at (122,835) {Negative regulation};
\node[lab] (tc8) at (725,835) {Cell population proliferation};
\node[lab] (tc9) at (229,871) {of cell cycle};
\node[lab] (tc10) at (723,883) {Protein localization to};
\node[lab] (tc11) at (723,919) {plasma membrane};
\node[lab] (tc12) at (143,925) {Regulation of DNA};
\node[lab] (tc13) at (155,961) {metabolic process};
\node[lab] (tc14) at (723,964) {Gastrulation};
\node[lab] (tc15) at (721,1005) {Negative regulation of};
\node[lab] (tc16) at (163,1006) {Mitotic cell cycle};
\node[lab] (tc17) at (721,1041) {cell population proliferation};
\node[lab] (tc18) at (721,1076) {Regulation of ubiquitin-dependent};
\node[lab] (tc19) at (149,1079) {Iron ion transport};
\node[lab] (tc20) at (721,1113) {protein catabolic process};
\node[lab] (tc21) at (149,1126) {Parkinson disease};
\node[lab] (tc22) at (723,1156) {Small molecules};
\node[lab] (tc23) at (242,1166) {Apoptosis};
\node[lab] (tc24) at (723,1192) {biosynthetic process};
\node[lab] (tc25) at (118,1212) {Translation initiation};
\node[lab] (tc26) at (572,1230) {Ribonucleoprotein};
\node[lab] (tc27) at (365,1255) {Translation};
\node[lab] (tc28) at (561,1266) {complex\ \ biogenesis};
\ldr{la1}{389.7,85.2}{507.5,146.7}
\ldr{la2}{395,161}{417,181}
\ldr{la3}{608,57}{586,102}
\ldr{la4}{692.7,110.3}{675,128.7}
\ldr{la5}{740,145.6}{633.1,190.3}
\ldr{la6}{740,230}{600.4,259.9}
\ldr{la7}{740,302.4}{651,314.8}
\ldr{la8}{436.3,339.3}{395.9,355.1}
\ldr{la9}{507.5,403.7}{383,450.4}
\ldr{la10}{651,383.9}{740,383.9}
\ldr{la11}{630.9,457.3}{703.2,519.2}
\ldr{la12}{574.7,486.7}{595,534}
\ldr{la13}{524.2,490.4}{478,556}
\ldr{lc1}{509,711.6}{518.4,829.7}
\ldr{lc2}{428.8,767.4}{482.8,870}
\ldr{lc3}{388,782}{445.2,874.6}
\ldr{lc4}{398.1,874.5}{517.8,954.4}
\ldr{lc5}{391.8,933.1}{422.6,960.4}
\ldr{lc6}{619.9,711.6}{599,746.4}
\ldr{lc7}{704.7,751.5}{631.9,809.5}
\ldr{lc8}{708.9,826}{620.4,851.7}
\ldr{lc9}{575,919.4}{705.3,1013.1}
\ldr{lc10}{631.9,921.2}{707.8,953.3}
\ldr{lc11}{389.7,1000.4}{458.3,1017.7}
\ldr{lc12}{679.6,1066.6}{705.7,1083.1}
\ldr{lc13}{388,1117.3}{471.7,1092.7}
\ldr{lc14}{389.7,1151.7}{422.6,1127}
\ldr{lc15}{643.6,1124.4}{707.8,1164.4}
\ldr{lc16}{466.1,1189.9}{430.5,1210}
\ldr{lc17}{503.8,1189.9}{497.2,1232}
\ldr{lc18}{565.5,1176.3}{589.6,1200.1}
\end{scope}
\end{tikzpicture}
\end{document}
